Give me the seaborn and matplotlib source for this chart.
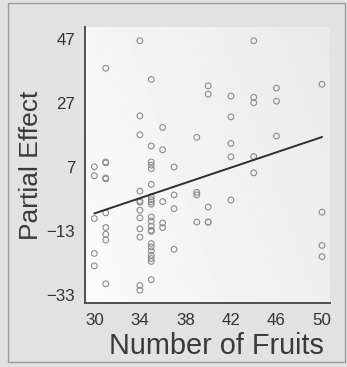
import numpy as np
import pandas as pd
import matplotlib
matplotlib.use("Agg")
import matplotlib.pyplot as plt
from matplotlib.patches import Rectangle
from matplotlib.ticker import FixedLocator
import seaborn as sns

# Partial residuals of the response against the number of fruits
fruits_30 = [7.1, 4.3, -9.1, -20.0, -23.9]
fruits_31 = [37.9, 8.6, 8.3, 3.6, 3.3, -7.3, -11.9, -14.0, -15.8, -29.5]
fruits_34 = [46.5, 23.0, 17.1, -0.5, -3.6, -4.0, -6.5, -8.9, -12.3, -14.9, -30.0, -31.5]
fruits_35 = [34.4, 13.6, 8.6, 7.6, 6.5, 1.6, -2.3, -3.2, -3.9, -4.6, -8.6, -9.9,
             -11.5, -12.8, -13.1, -16.9, -18.0, -19.2, -20.6, -21.6, -22.5, -28.2]
fruits_36 = [19.4, 12.4, -3.8, -10.5, -11.9]
fruits_37 = [7.0, -1.7, -6.0, -18.7]
fruits_39 = [16.3, -0.9, -1.7, -10.2]
fruits_40 = [32.4, 29.8, -5.5, -10.2, -10.2]
fruits_42 = [29.2, 22.7, 14.4, 10.2, -3.3]
fruits_44 = [46.5, 28.8, 27.1, 10.3, 5.2]
fruits_46 = [31.7, 27.6, 16.7]
fruits_50 = [32.9, -7.1, -17.5, -21.0]

groups = {30: fruits_30, 31: fruits_31, 34: fruits_34, 35: fruits_35, 36: fruits_36,
          37: fruits_37, 39: fruits_39, 40: fruits_40, 42: fruits_42, 44: fruits_44,
          46: fruits_46, 50: fruits_50}

# Fitted partial-effect line
fit_x = [30, 50]
fit_y = [-7.5, 16.4]

x_ticks = [30, 34, 38, 42, 46, 50]
y_ticks = [-33, -13, 7, 27, 47]

df = pd.DataFrame([(k, v) for k, vals in groups.items() for v in vals],
                  columns=["fruits", "effect"])
fit = pd.DataFrame({"fruits": fit_x, "effect": fit_y})

sns.set_style("white")
plt.rcParams["font.family"] = ["Liberation Sans", "DejaVu Sans"]

fig = plt.figure(figsize=(3.47, 3.67), dpi=100, facecolor="#e2e2e2")
W, H = 347, 367

# panel frame
fig.patches.append(Rectangle((8 / W, 5 / H), 337 / W, 359 / H, transform=fig.transFigure,
                             facecolor="none", edgecolor="#9c9c9c", linewidth=1.0))

ax = fig.add_axes([85 / W, 64 / H, 245 / W, 276 / H])
XL, YL = (29.18, 50.7), (-35.5, 50.8)

# soft gradient plot background
gx = np.linspace(0, 1, 200)
gy = np.linspace(0, 1, 200)
GX, GY = np.meshgrid(gx, gy)
shade = 0.985 - 0.05 * GX - 0.02 * GY
ax.imshow(shade, cmap="gray", vmin=0, vmax=1, extent=[XL[0], XL[1], YL[1], YL[0]],
          aspect="auto", zorder=0, interpolation="bilinear")
ax.set_xlim(*XL)
ax.set_ylim(*YL)

sns.scatterplot(data=df, x="fruits", y="effect", ax=ax, marker="o", s=17,
                facecolor="none", edgecolor="#8c8c8c", linewidth=0.8, zorder=3)
sns.lineplot(data=fit, x="fruits", y="effect", ax=ax, color="#2e2e2e",
             linewidth=1.4, zorder=4)

for side in ["top", "right"]:
    ax.spines[side].set_visible(False)
for side in ["left", "bottom"]:
    ax.spines[side].set_color("#505050")
    ax.spines[side].set_linewidth(1.4)

ax.set_xticks(x_ticks)
ax.set_yticks(y_ticks)
ax.xaxis.set_minor_locator(FixedLocator(list(range(30, 51))))
ax.yaxis.set_minor_locator(FixedLocator(list(range(-33, 48, 5))))
ax.tick_params(which="major", direction="in", length=5, width=1.0, color="#505050",
               labelsize=12.2, labelcolor="#333333")
ax.tick_params(which="minor", direction="in", length=3, width=0.8, color="#505050")
ax.tick_params(axis="y", pad=7)
ax.tick_params(axis="x", pad=7)

ax.set_xlabel("")
ax.set_ylabel("")
fig.text(216 / W, 1 - 354.5 / H, "Number of Fruits", ha="center", va="baseline",
         fontsize=20.8, color="#3a3a3a")
fig.text(31 / W, 1 - 165.5 / H, "Partial Effect", ha="center", va="center",
         rotation=90, fontsize=19, color="#3a3a3a")

fig.savefig("out.png", dpi=100, facecolor=fig.get_facecolor())
